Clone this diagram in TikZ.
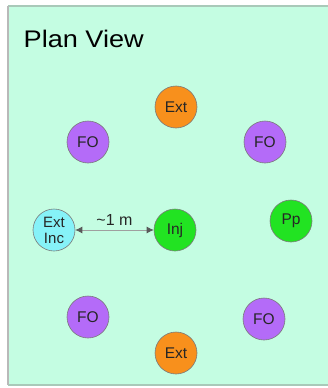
\documentclass[tikz,border=0pt]{standalone}
\usepackage{fontspec}
\setmainfont{Liberation Sans}
\usetikzlibrary{arrows.meta}
\definecolor{planbg}{HTML}{C4FDE2}
\definecolor{planedge}{HTML}{A9C9B9}
\definecolor{extcol}{HTML}{F8901C}
\definecolor{focol}{HTML}{B46BF8}
\definecolor{grncol}{HTML}{22E322}
\definecolor{inccol}{HTML}{86F2F8}
\definecolor{rimcol}{HTML}{7A7A7A}
\tikzset{
  well/.style={circle, draw=rimcol, line width=0.6pt, minimum size=42pt, inner sep=0pt,
    font=\fontsize{15.5}{16}\selectfont, align=center, text=black!85},
  ext/.style={well, fill=extcol},
  fo/.style={well, fill=focol},
  grn/.style={well, fill=grncol},
  inc/.style={well, fill=inccol, font=\fontsize{15}{16}\selectfont},
  dist/.style={draw=gray!75, line width=0.8pt, {Latex[length=7pt,width=7pt,color=black!65]}-{Latex[length=7pt,width=7pt,color=black!65]}}
}
\begin{document}
\begin{tikzpicture}[x=1pt,y=-1pt]
\useasboundingbox (0,0) rectangle (327,388);
% panel
\fill[planbg] (8,6) rectangle (330,385);
\draw[planedge, line width=1.2pt] (8,6) -- (330,6);
\draw[planedge, line width=1.6pt] (8,385) -- (330,385);
\draw[gray!55, line width=1.6pt] (8,6) -- (8,385);
\node[anchor=base west, font=\fontsize{24}{26}\selectfont, inner sep=0pt] (title) at (23.5,47) {\scalebox{1.13}[1]{Plan View}};
% wells
\node[ext] (extN) at (176,107) {Ext};
\node[fo] (foNW) at (88,142) {FO};
\node[fo] (foNE) at (265,142) {FO};
\node[inc] (extinc) at (54,230) {Ext\\Inc};
\node[grn] (inj) at (175,230) {Inj};
\node[grn] (pp) at (291,221) {Pp};
\node[fo] (foSW) at (88,317) {FO};
\node[fo] (foSE) at (264,319) {FO};
\node[ext] (extS) at (176,353) {Ext};
% spacing marker
\draw[dist] (extinc.east) -- node[above=0.5pt, font=\fontsize{16}{17}\selectfont, text=black!85] (span) {{\char"007E\relax}1 m} (inj.west);
\end{tikzpicture}
\end{document}
